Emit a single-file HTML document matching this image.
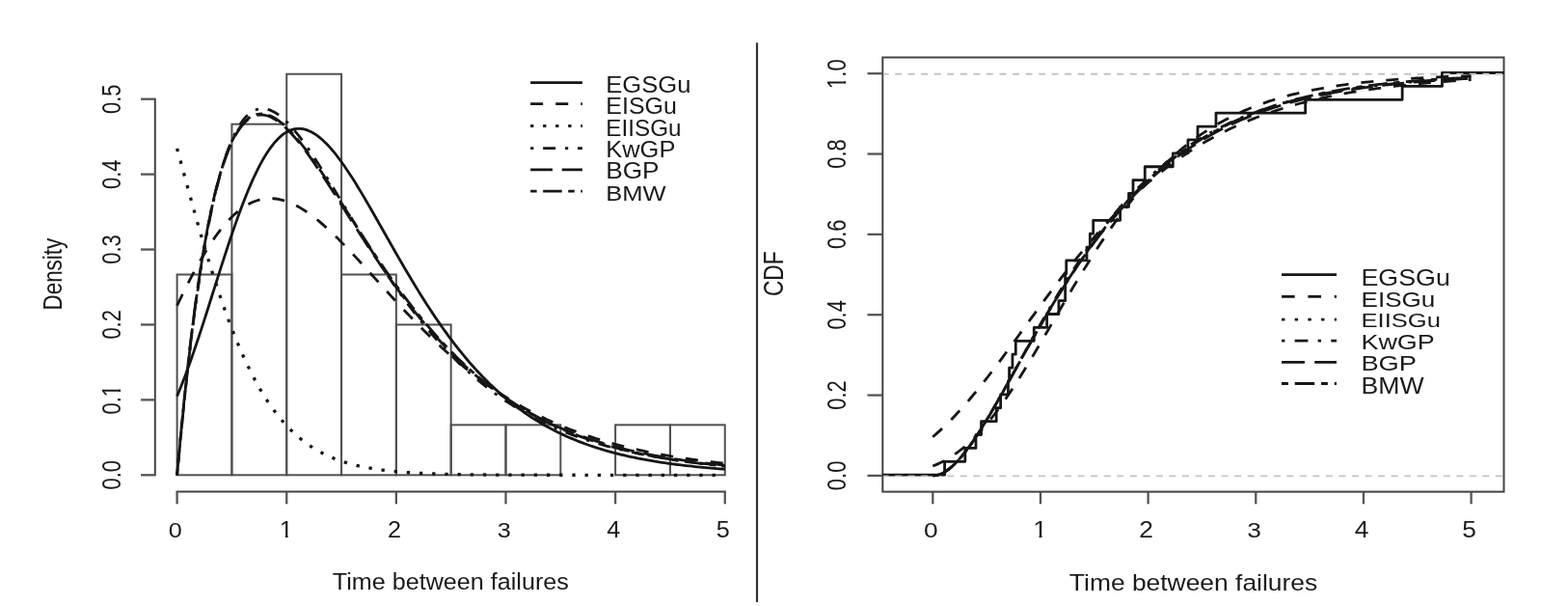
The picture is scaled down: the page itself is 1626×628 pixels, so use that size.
<!DOCTYPE html>
<html><head><meta charset="utf-8"><title>Density and CDF plots</title>
<style>
html,body{margin:0;padding:0;background:#fff;}
svg{display:block;}
text{font-family:"Liberation Sans",Arial,sans-serif;font-size:22.5px;fill:#1a1a1a;}
</style></head><body>
<svg width="1626" height="628" viewBox="0 0 1626 628">
<defs><clipPath id="rclip"><rect x="915.3" y="59.5" width="644.2" height="450.1"/></clipPath></defs>
<rect width="1626" height="628" fill="#fff"/>
<line x1="160.80" y1="492.30" x2="160.80" y2="102.70" stroke="#424242" stroke-width="2" stroke-linecap="square"/>
<line x1="146.00" y1="492.30" x2="160.80" y2="492.30" stroke="#555" stroke-width="2.3" />
<line x1="146.00" y1="414.38" x2="160.80" y2="414.38" stroke="#555" stroke-width="2.3" />
<line x1="146.00" y1="336.46" x2="160.80" y2="336.46" stroke="#555" stroke-width="2.3" />
<line x1="146.00" y1="258.54" x2="160.80" y2="258.54" stroke="#555" stroke-width="2.3" />
<line x1="146.00" y1="180.62" x2="160.80" y2="180.62" stroke="#555" stroke-width="2.3" />
<line x1="146.00" y1="102.70" x2="160.80" y2="102.70" stroke="#555" stroke-width="2.3" />
<line x1="183.60" y1="509.60" x2="751.75" y2="509.60" stroke="#424242" stroke-width="2" stroke-linecap="square"/>
<line x1="183.60" y1="509.60" x2="183.60" y2="522.30" stroke="#555" stroke-width="2.3" />
<line x1="297.23" y1="509.60" x2="297.23" y2="522.30" stroke="#555" stroke-width="2.3" />
<line x1="410.86" y1="509.60" x2="410.86" y2="522.30" stroke="#555" stroke-width="2.3" />
<line x1="524.49" y1="509.60" x2="524.49" y2="522.30" stroke="#555" stroke-width="2.3" />
<line x1="638.12" y1="509.60" x2="638.12" y2="522.30" stroke="#555" stroke-width="2.3" />
<line x1="751.75" y1="509.60" x2="751.75" y2="522.30" stroke="#555" stroke-width="2.3" />
<rect x="183.60" y="284.51" width="56.81" height="207.79" fill="none" stroke="#505050" stroke-width="2"/>
<rect x="240.41" y="128.67" width="56.82" height="363.63" fill="none" stroke="#505050" stroke-width="2"/>
<rect x="297.23" y="76.73" width="56.81" height="415.57" fill="none" stroke="#505050" stroke-width="2"/>
<rect x="354.04" y="284.51" width="56.82" height="207.79" fill="none" stroke="#505050" stroke-width="2"/>
<rect x="410.86" y="336.46" width="56.81" height="155.84" fill="none" stroke="#505050" stroke-width="2"/>
<rect x="467.67" y="440.35" width="56.82" height="51.95" fill="none" stroke="#505050" stroke-width="2"/>
<rect x="524.49" y="440.35" width="56.81" height="51.95" fill="none" stroke="#505050" stroke-width="2"/>
<rect x="638.12" y="440.35" width="56.81" height="51.95" fill="none" stroke="#505050" stroke-width="2"/>
<rect x="694.93" y="440.35" width="56.82" height="51.95" fill="none" stroke="#505050" stroke-width="2"/>
<g transform="translate(174.64,556.97) scale(1.1200,1.0203)"><text>0</text></g>
<g transform="translate(289.79,557.20) scale(1.1200,1.0499)"><text>1</text><rect x="0.45" y="-2.36" width="4.90" height="3.15" fill="#fff"/><rect x="7.92" y="-2.36" width="4.68" height="3.15" fill="#fff"/></g>
<g transform="translate(401.90,557.20) scale(1.1200,1.0349)"><text>2</text></g>
<g transform="translate(515.66,556.97) scale(1.1200,1.0203)"><text>3</text></g>
<g transform="translate(629.29,557.20) scale(1.1200,1.0499)"><text>4</text></g>
<g transform="translate(742.79,556.97) scale(1.1200,1.0349)"><text>5</text></g>
<g transform="translate(125.20,507.55) scale(1.2635,0.9750) rotate(-90)"><text>0.0</text></g>
<g transform="translate(125.20,429.52) scale(1.2635,0.9750) rotate(-90)"><text>0.1</text><rect x="19.21" y="-2.36" width="4.90" height="3.15" fill="#fff"/><rect x="26.68" y="-2.36" width="4.68" height="3.15" fill="#fff"/></g>
<g transform="translate(125.20,351.60) scale(1.2635,0.9750) rotate(-90)"><text>0.2</text></g>
<g transform="translate(125.20,273.68) scale(1.2635,0.9750) rotate(-90)"><text>0.3</text></g>
<g transform="translate(125.20,195.98) scale(1.2635,0.9750) rotate(-90)"><text>0.4</text></g>
<g transform="translate(125.20,117.95) scale(1.2635,0.9750) rotate(-90)"><text>0.5</text></g>
<g transform="translate(64.10,321.49) scale(1.2222,0.9956) rotate(-90)"><text>Density</text></g>
<g transform="translate(344.80,611.36) scale(1.1185,1.0472)"><text>Time between failures</text></g>
<g transform="translate(628.25,96.25) scale(1.1380,1.0892)"><text>EGSGu</text></g>
<g transform="translate(628.30,118.46) scale(1.1111,1.0579)"><text>EISGu</text></g>
<g transform="translate(628.36,140.56) scale(1.0779,1.0579)"><text>EIISGu</text></g>
<g transform="translate(628.26,162.86) scale(1.1316,1.0579)"><text>KwGP</text></g>
<g transform="translate(628.20,185.26) scale(1.1672,1.0579)"><text>BGP</text></g>
<g transform="translate(628.26,208.30) scale(1.1356,1.0048)"><text>BMW</text></g>
<line x1="785.00" y1="44.30" x2="785.00" y2="623.90" stroke="#333" stroke-width="2.2" />
<rect x="915.3" y="59.5" width="644.20" height="450.10" fill="none" stroke="#424242" stroke-width="2"/>
<line x1="899.50" y1="492.90" x2="915.30" y2="492.90" stroke="#555" stroke-width="2.3" />
<line x1="899.50" y1="409.56" x2="915.30" y2="409.56" stroke="#555" stroke-width="2.3" />
<line x1="899.50" y1="326.22" x2="915.30" y2="326.22" stroke="#555" stroke-width="2.3" />
<line x1="899.50" y1="242.88" x2="915.30" y2="242.88" stroke="#555" stroke-width="2.3" />
<line x1="899.50" y1="159.54" x2="915.30" y2="159.54" stroke="#555" stroke-width="2.3" />
<line x1="899.50" y1="76.20" x2="915.30" y2="76.20" stroke="#555" stroke-width="2.3" />
<line x1="967.30" y1="509.60" x2="967.30" y2="522.30" stroke="#555" stroke-width="2.3" />
<line x1="1078.96" y1="509.60" x2="1078.96" y2="522.30" stroke="#555" stroke-width="2.3" />
<line x1="1190.62" y1="509.60" x2="1190.62" y2="522.30" stroke="#555" stroke-width="2.3" />
<line x1="1302.28" y1="509.60" x2="1302.28" y2="522.30" stroke="#555" stroke-width="2.3" />
<line x1="1413.94" y1="509.60" x2="1413.94" y2="522.30" stroke="#555" stroke-width="2.3" />
<line x1="1525.60" y1="509.60" x2="1525.60" y2="522.30" stroke="#555" stroke-width="2.3" />
<g transform="translate(958.03,556.97) scale(1.1700,1.0203)"><text>0</text></g>
<g transform="translate(1071.27,557.20) scale(1.1700,1.0499)"><text>1</text><rect x="0.45" y="-2.36" width="4.90" height="3.15" fill="#fff"/><rect x="7.92" y="-2.36" width="4.68" height="3.15" fill="#fff"/></g>
<g transform="translate(1181.35,557.20) scale(1.1700,1.0349)"><text>2</text></g>
<g transform="translate(1293.14,556.97) scale(1.1700,1.0203)"><text>3</text></g>
<g transform="translate(1404.80,557.20) scale(1.1700,1.0499)"><text>4</text></g>
<g transform="translate(1516.33,556.97) scale(1.1700,1.0349)"><text>5</text></g>
<g transform="translate(876.80,508.15) scale(1.2508,0.9750) rotate(-90)"><text>0.0</text></g>
<g transform="translate(876.80,424.70) scale(1.2508,0.9750) rotate(-90)"><text>0.2</text></g>
<g transform="translate(876.80,341.58) scale(1.2508,0.9750) rotate(-90)"><text>0.4</text></g>
<g transform="translate(876.80,258.02) scale(1.2508,0.9750) rotate(-90)"><text>0.6</text></g>
<g transform="translate(876.80,174.68) scale(1.2508,0.9750) rotate(-90)"><text>0.8</text></g>
<g transform="translate(876.80,91.89) scale(1.2508,0.9750) rotate(-90)"><text>1.0</text><rect x="0.45" y="-2.36" width="4.90" height="3.15" fill="#fff"/><rect x="7.92" y="-2.36" width="4.68" height="3.15" fill="#fff"/></g>
<g transform="translate(812.30,307.04) scale(1.2762,1.0091) rotate(-90)"><text>CDF</text></g>
<g transform="translate(1108.87,611.86) scale(1.1740,1.0776)"><text>Time between failures</text></g>
<g transform="translate(1411.45,296.17) scale(1.1919,1.0329)"><text>EGSGu</text></g>
<g transform="translate(1411.51,317.78) scale(1.1587,0.9828)"><text>EISGu</text></g>
<g transform="translate(1411.56,339.39) scale(1.1356,0.9202)"><text>EIISGu</text></g>
<g transform="translate(1411.45,362.18) scale(1.1972,0.9765)"><text>KwGP</text></g>
<g transform="translate(1411.41,384.47) scale(1.2144,1.0078)"><text>BGP</text></g>
<g transform="translate(1411.47,408.30) scale(1.1846,1.0306)"><text>BMW</text></g>
<path d="M183.60,410.63 L186.44,403.75 L189.28,396.58 L192.12,389.14 L194.96,381.45 L197.80,373.52 L200.64,365.37 L203.49,357.03 L206.33,348.51 L209.17,339.85 L212.01,331.07 L214.85,322.20 L217.69,313.27 L220.53,304.29 L223.37,295.31 L226.21,286.35 L229.05,277.44 L231.89,268.61 L234.73,259.89 L237.57,251.30 L240.41,242.87 L243.26,234.63 L246.10,226.60 L248.94,218.80 L251.78,211.26 L254.62,203.99 L257.46,197.02 L260.30,190.36 L263.14,184.03 L265.98,178.04 L268.82,172.40 L271.66,167.12 L274.50,162.22 L277.34,157.69 L280.19,153.55 L283.03,149.80 L285.87,146.44 L288.71,143.47 L291.55,140.88 L294.39,138.69 L297.23,136.88 L300.07,135.44 L302.91,134.38 L305.75,133.69 L308.59,133.35 L311.43,133.36 L314.27,133.72 L317.12,134.40 L319.96,135.40 L322.80,136.71 L325.64,138.31 L328.48,140.19 L331.32,142.35 L334.16,144.76 L337.00,147.42 L339.84,150.31 L342.68,153.42 L345.52,156.74 L348.36,160.24 L351.20,163.93 L354.04,167.78 L356.89,171.79 L359.73,175.94 L362.57,180.21 L365.41,184.61 L368.25,189.11 L371.09,193.71 L373.93,198.39 L376.77,203.15 L379.61,207.97 L382.45,212.84 L385.29,217.76 L388.13,222.72 L390.97,227.70 L393.82,232.70 L396.66,237.71 L399.50,242.73 L402.34,247.74 L405.18,252.75 L408.02,257.74 L410.86,262.71 L413.70,267.65 L416.54,272.56 L419.38,277.43 L422.22,282.27 L425.06,287.06 L427.90,291.80 L430.75,296.49 L433.59,301.12 L436.43,305.70 L439.27,310.21 L442.11,314.66 L444.95,319.05 L447.79,323.37 L450.63,327.62 L453.47,331.81 L456.31,335.92 L459.15,339.96 L461.99,343.93 L464.83,347.82 L467.67,351.64 L470.52,355.39 L473.36,359.06 L476.20,362.66 L479.04,366.18 L481.88,369.63 L484.72,373.00 L487.56,376.30 L490.40,379.53 L493.24,382.68 L496.08,385.76 L498.92,388.77 L501.76,391.71 L504.60,394.58 L507.45,397.38 L510.29,400.11 L513.13,402.77 L515.97,405.37 L518.81,407.90 L521.65,410.37 L524.49,412.78 L527.33,415.12 L530.17,417.40 L533.01,419.62 L535.85,421.78 L538.69,423.89 L541.53,425.93 L544.38,427.93 L547.22,429.87 L550.06,431.75 L552.90,433.58 L555.74,435.36 L558.58,437.10 L561.42,438.78 L564.26,440.42 L567.10,442.01 L569.94,443.55 L572.78,445.05 L575.62,446.51 L578.46,447.92 L581.30,449.29 L584.15,450.63 L586.99,451.92 L589.83,453.18 L592.67,454.40 L595.51,455.58 L598.35,456.73 L601.19,457.84 L604.03,458.93 L606.87,459.97 L609.71,460.99 L612.55,461.98 L615.39,462.93 L618.23,463.86 L621.08,464.76 L623.92,465.63 L626.76,466.48 L629.60,467.30 L632.44,468.09 L635.28,468.86 L638.12,469.61 L640.96,470.33 L643.80,471.03 L646.64,471.71 L649.48,472.37 L652.32,473.01 L655.16,473.62 L658.01,474.22 L660.85,474.80 L663.69,475.36 L666.53,475.91 L669.37,476.43 L672.21,476.94 L675.05,477.44 L677.89,477.92 L680.73,478.38 L683.57,478.83 L686.41,479.26 L689.25,479.69 L692.09,480.09 L694.93,480.49 L697.78,480.87 L700.62,481.24 L703.46,481.60 L706.30,481.94 L709.14,482.28 L711.98,482.60 L714.82,482.92 L717.66,483.22 L720.50,483.52 L723.34,483.80 L726.18,484.08 L729.02,484.35 L731.86,484.61 L734.71,484.86 L737.55,485.10 L740.39,485.33 L743.23,485.56 L746.07,485.78 L748.91,485.99 L751.75,486.20" fill="none" stroke="#161616" stroke-width="2.8" stroke-linecap="butt" stroke-linejoin="round"  />
<path d="M183.60,316.63 L186.44,310.78 L189.28,305.00 L192.12,299.30 L194.96,293.70 L197.80,288.21 L200.64,282.84 L203.49,277.60 L206.33,272.50 L209.17,267.54 L212.01,262.74 L214.85,258.11 L217.69,253.65 L220.53,249.36 L223.37,245.26 L226.21,241.35 L229.05,237.63 L231.89,234.11 L234.73,230.80 L237.57,227.68 L240.41,224.78 L243.26,222.08 L246.10,219.59 L248.94,217.31 L251.78,215.24 L254.62,213.37 L257.46,211.72 L260.30,210.27 L263.14,209.02 L265.98,207.97 L268.82,207.13 L271.66,206.47 L274.50,206.01 L277.34,205.74 L280.19,205.65 L283.03,205.74 L285.87,206.00 L288.71,206.43 L291.55,207.03 L294.39,207.79 L297.23,208.70 L300.07,209.76 L302.91,210.97 L305.75,212.31 L308.59,213.79 L311.43,215.39 L314.27,217.11 L317.12,218.95 L319.96,220.90 L322.80,222.96 L325.64,225.11 L328.48,227.36 L331.32,229.70 L334.16,232.12 L337.00,234.62 L339.84,237.19 L342.68,239.82 L345.52,242.52 L348.36,245.28 L351.20,248.10 L354.04,250.96 L356.89,253.86 L359.73,256.81 L362.57,259.79 L365.41,262.80 L368.25,265.84 L371.09,268.91 L373.93,271.99 L376.77,275.09 L379.61,278.21 L382.45,281.33 L385.29,284.47 L388.13,287.60 L390.97,290.74 L393.82,293.88 L396.66,297.01 L399.50,300.14 L402.34,303.26 L405.18,306.37 L408.02,309.46 L410.86,312.54 L413.70,315.60 L416.54,318.64 L419.38,321.67 L422.22,324.67 L425.06,327.65 L427.90,330.60 L430.75,333.53 L433.59,336.43 L436.43,339.30 L439.27,342.14 L442.11,344.96 L444.95,347.74 L447.79,350.49 L450.63,353.21 L453.47,355.89 L456.31,358.54 L459.15,361.16 L461.99,363.74 L464.83,366.29 L467.67,368.80 L470.52,371.28 L473.36,373.72 L476.20,376.13 L479.04,378.49 L481.88,380.83 L484.72,383.12 L487.56,385.38 L490.40,387.61 L493.24,389.79 L496.08,391.95 L498.92,394.06 L501.76,396.14 L504.60,398.19 L507.45,400.19 L510.29,402.17 L513.13,404.11 L515.97,406.01 L518.81,407.88 L521.65,409.71 L524.49,411.52 L527.33,413.28 L530.17,415.02 L533.01,416.72 L535.85,418.39 L538.69,420.03 L541.53,421.63 L544.38,423.20 L547.22,424.75 L550.06,426.26 L552.90,427.74 L555.74,429.20 L558.58,430.62 L561.42,432.01 L564.26,433.38 L567.10,434.72 L569.94,436.03 L572.78,437.31 L575.62,438.57 L578.46,439.80 L581.30,441.00 L584.15,442.18 L586.99,443.34 L589.83,444.47 L592.67,445.57 L595.51,446.65 L598.35,447.71 L601.19,448.75 L604.03,449.76 L606.87,450.75 L609.71,451.72 L612.55,452.67 L615.39,453.60 L618.23,454.50 L621.08,455.39 L623.92,456.26 L626.76,457.10 L629.60,457.93 L632.44,458.74 L635.28,459.54 L638.12,460.31 L640.96,461.07 L643.80,461.81 L646.64,462.53 L649.48,463.24 L652.32,463.93 L655.16,464.60 L658.01,465.26 L660.85,465.90 L663.69,466.53 L666.53,467.15 L669.37,467.75 L672.21,468.34 L675.05,468.91 L677.89,469.47 L680.73,470.02 L683.57,470.55 L686.41,471.07 L689.25,471.58 L692.09,472.08 L694.93,472.57 L697.78,473.04 L700.62,473.51 L703.46,473.96 L706.30,474.40 L709.14,474.83 L711.98,475.25 L714.82,475.67 L717.66,476.07 L720.50,476.46 L723.34,476.84 L726.18,477.22 L729.02,477.58 L731.86,477.94 L734.71,478.29 L737.55,478.63 L740.39,478.96 L743.23,479.28 L746.07,479.60 L748.91,479.91 L751.75,480.21" fill="none" stroke="#161616" stroke-width="2.8" stroke-linecap="butt" stroke-linejoin="round" stroke-dasharray="13.00,13.00" />
<path d="M183.60,153.81 L186.44,164.24 L189.28,174.68 L192.12,185.11 L194.96,195.49 L197.80,205.80 L200.64,216.03 L203.49,226.14 L206.33,236.12 L209.17,245.95 L212.01,255.61 L214.85,265.09 L217.69,274.38 L220.53,283.46 L223.37,292.33 L226.21,300.97 L229.05,309.38 L231.89,317.56 L234.73,325.49 L237.57,333.18 L240.41,340.63 L243.26,347.83 L246.10,354.78 L248.94,361.48 L251.78,367.94 L254.62,374.16 L257.46,380.13 L260.30,385.87 L263.14,391.37 L265.98,396.65 L268.82,401.70 L271.66,406.53 L274.50,411.15 L277.34,415.57 L280.19,419.78 L283.03,423.79 L285.87,427.61 L288.71,431.25 L291.55,434.71 L294.39,438.01 L297.23,441.13 L300.07,444.10 L302.91,446.92 L305.75,449.58 L308.59,452.11 L311.43,454.51 L314.27,456.77 L317.12,458.92 L319.96,460.94 L322.80,462.85 L325.64,464.66 L328.48,466.37 L331.32,467.97 L334.16,469.49 L337.00,470.92 L339.84,472.26 L342.68,473.53 L345.52,474.72 L348.36,475.84 L351.20,476.90 L354.04,477.89 L356.89,478.82 L359.73,479.69 L362.57,480.51 L365.41,481.28 L368.25,482.00 L371.09,482.68 L373.93,483.31 L376.77,483.91 L379.61,484.47 L382.45,484.99 L385.29,485.48 L388.13,485.93 L390.97,486.36 L393.82,486.76 L396.66,487.14 L399.50,487.49 L402.34,487.81 L405.18,488.12 L408.02,488.40 L410.86,488.67 L413.70,488.92 L416.54,489.15 L419.38,489.37 L422.22,489.57 L425.06,489.76 L427.90,489.94 L430.75,490.10 L433.59,490.25 L436.43,490.40 L439.27,490.53 L442.11,490.65 L444.95,490.77 L447.79,490.88 L450.63,490.98 L453.47,491.07 L456.31,491.16 L459.15,491.24 L461.99,491.31 L464.83,491.38 L467.67,491.45 L470.52,491.51 L473.36,491.56 L476.20,491.62 L479.04,491.67 L481.88,491.71 L484.72,491.75 L487.56,491.79 L490.40,491.83 L493.24,491.86 L496.08,491.89 L498.92,491.92 L501.76,491.95 L504.60,491.98 L507.45,492.00 L510.29,492.02 L513.13,492.04 L515.97,492.06 L518.81,492.08 L521.65,492.09 L524.49,492.11 L527.33,492.12 L530.17,492.13 L533.01,492.15 L535.85,492.16 L538.69,492.17 L541.53,492.18 L544.38,492.19 L547.22,492.20 L550.06,492.20 L552.90,492.21 L555.74,492.22 L558.58,492.22 L561.42,492.23 L564.26,492.23 L567.10,492.24 L569.94,492.24 L572.78,492.25 L575.62,492.25 L578.46,492.25 L581.30,492.26 L584.15,492.26 L586.99,492.26 L589.83,492.27 L592.67,492.27 L595.51,492.27 L598.35,492.27 L601.19,492.28 L604.03,492.28 L606.87,492.28 L609.71,492.28 L612.55,492.28 L615.39,492.28 L618.23,492.28 L621.08,492.29 L623.92,492.29 L626.76,492.29 L629.60,492.29 L632.44,492.29 L635.28,492.29 L638.12,492.29 L640.96,492.29 L643.80,492.29 L646.64,492.29 L649.48,492.29 L652.32,492.29 L655.16,492.29 L658.01,492.29 L660.85,492.30 L663.69,492.30 L666.53,492.30 L669.37,492.30 L672.21,492.30 L675.05,492.30 L677.89,492.30 L680.73,492.30 L683.57,492.30 L686.41,492.30 L689.25,492.30 L692.09,492.30 L694.93,492.30 L697.78,492.30 L700.62,492.30 L703.46,492.30 L706.30,492.30 L709.14,492.30 L711.98,492.30 L714.82,492.30 L717.66,492.30 L720.50,492.30 L723.34,492.30 L726.18,492.30 L729.02,492.30 L731.86,492.30 L734.71,492.30 L737.55,492.30 L740.39,492.30 L743.23,492.30 L746.07,492.30 L748.91,492.30 L751.75,492.30" fill="none" stroke="#161616" stroke-width="3.3" stroke-linecap="butt" stroke-linejoin="round" stroke-dasharray="3.30,9.90" />
<path d="M183.60,492.30 L186.44,460.92 L189.28,431.91 L192.12,404.72 L194.96,379.18 L197.80,355.20 L200.64,332.73 L203.49,311.68 L206.33,292.01 L209.17,273.66 L212.01,256.59 L214.85,240.73 L217.69,226.04 L220.53,212.48 L223.37,200.00 L226.21,188.55 L229.05,178.08 L231.89,168.56 L234.73,159.94 L237.57,152.18 L240.41,145.24 L243.26,139.08 L246.10,133.66 L248.94,128.94 L251.78,124.90 L254.62,121.48 L257.46,118.67 L260.30,116.43 L263.14,114.72 L265.98,113.52 L268.82,112.80 L271.66,112.53 L274.50,112.68 L277.34,113.22 L280.19,114.14 L283.03,115.41 L285.87,117.00 L288.71,118.90 L291.55,121.08 L294.39,123.52 L297.23,126.21 L300.07,129.12 L302.91,132.24 L305.75,135.55 L308.59,139.04 L311.43,142.69 L314.27,146.48 L317.12,150.41 L319.96,154.46 L322.80,158.62 L325.64,162.88 L328.48,167.22 L331.32,171.64 L334.16,176.12 L337.00,180.66 L339.84,185.25 L342.68,189.87 L345.52,194.53 L348.36,199.22 L351.20,203.92 L354.04,208.63 L356.89,213.35 L359.73,218.07 L362.57,222.78 L365.41,227.48 L368.25,232.16 L371.09,236.83 L373.93,241.47 L376.77,246.09 L379.61,250.68 L382.45,255.23 L385.29,259.74 L388.13,264.22 L390.97,268.65 L393.82,273.04 L396.66,277.39 L399.50,281.68 L402.34,285.93 L405.18,290.12 L408.02,294.27 L410.86,298.35 L413.70,302.39 L416.54,306.36 L419.38,310.29 L422.22,314.15 L425.06,317.96 L427.90,321.70 L430.75,325.39 L433.59,329.02 L436.43,332.59 L439.27,336.11 L442.11,339.56 L444.95,342.95 L447.79,346.28 L450.63,349.56 L453.47,352.77 L456.31,355.93 L459.15,359.03 L461.99,362.07 L464.83,365.06 L467.67,367.98 L470.52,370.85 L473.36,373.67 L476.20,376.43 L479.04,379.13 L481.88,381.78 L484.72,384.38 L487.56,386.92 L490.40,389.41 L493.24,391.85 L496.08,394.24 L498.92,396.58 L501.76,398.87 L504.60,401.11 L507.45,403.30 L510.29,405.44 L513.13,407.54 L515.97,409.59 L518.81,411.60 L521.65,413.56 L524.49,415.48 L527.33,417.36 L530.17,419.19 L533.01,420.99 L535.85,422.74 L538.69,424.45 L541.53,426.13 L544.38,427.76 L547.22,429.36 L550.06,430.92 L552.90,432.44 L555.74,433.93 L558.58,435.39 L561.42,436.81 L564.26,438.19 L567.10,439.55 L569.94,440.87 L572.78,442.16 L575.62,443.42 L578.46,444.65 L581.30,445.85 L584.15,447.02 L586.99,448.17 L589.83,449.28 L592.67,450.37 L595.51,451.43 L598.35,452.47 L601.19,453.48 L604.03,454.47 L606.87,455.43 L609.71,456.37 L612.55,457.29 L615.39,458.18 L618.23,459.05 L621.08,459.90 L623.92,460.73 L626.76,461.54 L629.60,462.32 L632.44,463.09 L635.28,463.84 L638.12,464.57 L640.96,465.28 L643.80,465.98 L646.64,466.66 L649.48,467.32 L652.32,467.96 L655.16,468.59 L658.01,469.20 L660.85,469.79 L663.69,470.37 L666.53,470.94 L669.37,471.49 L672.21,472.03 L675.05,472.55 L677.89,473.06 L680.73,473.56 L683.57,474.05 L686.41,474.52 L689.25,474.98 L692.09,475.43 L694.93,475.87 L697.78,476.29 L700.62,476.71 L703.46,477.11 L706.30,477.51 L709.14,477.89 L711.98,478.27 L714.82,478.63 L717.66,478.99 L720.50,479.33 L723.34,479.67 L726.18,480.00 L729.02,480.32 L731.86,480.63 L734.71,480.93 L737.55,481.23 L740.39,481.52 L743.23,481.80 L746.07,482.07 L748.91,482.34 L751.75,482.60" fill="none" stroke="#161616" stroke-width="2.8" stroke-linecap="butt" stroke-linejoin="round" stroke-dasharray="3.25,9.75,13.00,9.75" />
<path d="M183.60,492.30 L186.44,461.26 L189.28,431.64 L192.12,403.76 L194.96,377.63 L197.80,353.20 L200.64,330.42 L203.49,309.22 L206.33,289.52 L209.17,271.26 L212.01,254.38 L214.85,238.80 L217.69,224.46 L220.53,211.31 L223.37,199.28 L226.21,188.31 L229.05,178.35 L231.89,169.35 L234.73,161.25 L237.57,154.01 L240.41,147.59 L243.26,141.92 L246.10,136.99 L248.94,132.73 L251.78,129.12 L254.62,126.11 L257.46,123.68 L260.30,121.79 L263.14,120.40 L265.98,119.48 L268.82,119.01 L271.66,118.96 L274.50,119.30 L277.34,120.01 L280.19,121.06 L283.03,122.43 L285.87,124.09 L288.71,126.03 L291.55,128.23 L294.39,130.66 L297.23,133.32 L300.07,136.18 L302.91,139.23 L305.75,142.45 L308.59,145.83 L311.43,149.35 L314.27,153.00 L317.12,156.78 L319.96,160.66 L322.80,164.64 L325.64,168.70 L328.48,172.84 L331.32,177.05 L334.16,181.32 L337.00,185.64 L339.84,190.00 L342.68,194.39 L345.52,198.82 L348.36,203.27 L351.20,207.73 L354.04,212.20 L356.89,216.68 L359.73,221.16 L362.57,225.64 L365.41,230.10 L368.25,234.56 L371.09,238.99 L373.93,243.41 L376.77,247.80 L379.61,252.16 L382.45,256.50 L385.29,260.80 L388.13,265.07 L390.97,269.30 L393.82,273.50 L396.66,277.65 L399.50,281.76 L402.34,285.83 L405.18,289.85 L408.02,293.82 L410.86,297.74 L413.70,301.62 L416.54,305.45 L419.38,309.22 L422.22,312.95 L425.06,316.62 L427.90,320.24 L430.75,323.81 L433.59,327.33 L436.43,330.79 L439.27,334.19 L442.11,337.55 L444.95,340.85 L447.79,344.09 L450.63,347.29 L453.47,350.43 L456.31,353.51 L459.15,356.54 L461.99,359.52 L464.83,362.45 L467.67,365.32 L470.52,368.15 L473.36,370.92 L476.20,373.64 L479.04,376.30 L481.88,378.92 L484.72,381.49 L487.56,384.01 L490.40,386.48 L493.24,388.90 L496.08,391.28 L498.92,393.61 L501.76,395.89 L504.60,398.12 L507.45,400.31 L510.29,402.46 L513.13,404.56 L515.97,406.62 L518.81,408.64 L521.65,410.61 L524.49,412.54 L527.33,414.43 L530.17,416.28 L533.01,418.10 L535.85,419.87 L538.69,421.60 L541.53,423.30 L544.38,424.96 L547.22,426.58 L550.06,428.17 L552.90,429.72 L555.74,431.24 L558.58,432.73 L561.42,434.18 L564.26,435.60 L567.10,436.98 L569.94,438.34 L572.78,439.67 L575.62,440.96 L578.46,442.23 L581.30,443.46 L584.15,444.67 L586.99,445.85 L589.83,447.00 L592.67,448.13 L595.51,449.23 L598.35,450.30 L601.19,451.35 L604.03,452.38 L606.87,453.38 L609.71,454.35 L612.55,455.31 L615.39,456.24 L618.23,457.15 L621.08,458.03 L623.92,458.90 L626.76,459.74 L629.60,460.57 L632.44,461.37 L635.28,462.16 L638.12,462.93 L640.96,463.67 L643.80,464.40 L646.64,465.12 L649.48,465.81 L652.32,466.49 L655.16,467.15 L658.01,467.80 L660.85,468.42 L663.69,469.04 L666.53,469.64 L669.37,470.22 L672.21,470.79 L675.05,471.34 L677.89,471.89 L680.73,472.41 L683.57,472.93 L686.41,473.43 L689.25,473.92 L692.09,474.40 L694.93,474.86 L697.78,475.32 L700.62,475.76 L703.46,476.19 L706.30,476.61 L709.14,477.02 L711.98,477.42 L714.82,477.81 L717.66,478.19 L720.50,478.56 L723.34,478.92 L726.18,479.27 L729.02,479.61 L731.86,479.94 L734.71,480.27 L737.55,480.58 L740.39,480.89 L743.23,481.19 L746.07,481.49 L748.91,481.77 L751.75,482.05" fill="none" stroke="#161616" stroke-width="2.8" stroke-linecap="butt" stroke-linejoin="round" stroke-dasharray="22.75,9.75" />
<path d="M183.60,492.30 L186.44,463.12 L189.28,433.69 L192.12,405.64 L194.96,379.21 L197.80,354.45 L200.64,331.33 L203.49,309.82 L206.33,289.85 L209.17,271.36 L212.01,254.27 L214.85,238.52 L217.69,224.05 L220.53,210.78 L223.37,198.66 L226.21,187.62 L229.05,177.61 L231.89,168.57 L234.73,160.44 L237.57,153.18 L240.41,146.73 L243.26,141.06 L246.10,136.11 L248.94,131.84 L251.78,128.22 L254.62,125.21 L257.46,122.77 L260.30,120.86 L263.14,119.46 L265.98,118.53 L268.82,118.05 L271.66,117.97 L274.50,118.29 L277.34,118.97 L280.19,119.99 L283.03,121.33 L285.87,122.96 L288.71,124.87 L291.55,127.03 L294.39,129.43 L297.23,132.05 L300.07,134.87 L302.91,137.88 L305.75,141.06 L308.59,144.39 L311.43,147.87 L314.27,151.49 L317.12,155.22 L319.96,159.06 L322.80,163.00 L325.64,167.02 L328.48,171.13 L331.32,175.30 L334.16,179.53 L337.00,183.82 L339.84,188.15 L342.68,192.51 L345.52,196.91 L348.36,201.33 L351.20,205.77 L354.04,210.23 L356.89,214.69 L359.73,219.15 L362.57,223.61 L365.41,228.06 L368.25,232.51 L371.09,236.94 L373.93,241.35 L376.77,245.74 L379.61,250.10 L382.45,254.44 L385.29,258.75 L388.13,263.03 L390.97,267.27 L393.82,271.47 L396.66,275.64 L399.50,279.77 L402.34,283.85 L405.18,287.89 L408.02,291.89 L410.86,295.84 L413.70,299.74 L416.54,303.60 L419.38,307.40 L422.22,311.16 L425.06,314.87 L427.90,318.52 L430.75,322.13 L433.59,325.68 L436.43,329.18 L439.27,332.62 L442.11,336.02 L444.95,339.36 L447.79,342.65 L450.63,345.89 L453.47,349.07 L456.31,352.20 L459.15,355.28 L461.99,358.30 L464.83,361.28 L467.67,364.20 L470.52,367.07 L473.36,369.89 L476.20,372.65 L479.04,375.37 L481.88,378.04 L484.72,380.65 L487.56,383.22 L490.40,385.74 L493.24,388.21 L496.08,390.63 L498.92,393.01 L501.76,395.34 L504.60,397.62 L507.45,399.86 L510.29,402.05 L513.13,404.20 L515.97,406.30 L518.81,408.36 L521.65,410.38 L524.49,412.36 L527.33,414.29 L530.17,416.19 L533.01,418.04 L535.85,419.85 L538.69,421.63 L541.53,423.37 L544.38,425.07 L547.22,426.73 L550.06,428.35 L552.90,429.94 L555.74,431.50 L558.58,433.02 L561.42,434.51 L564.26,435.96 L567.10,437.38 L569.94,438.77 L572.78,440.12 L575.62,441.45 L578.46,442.74 L581.30,444.01 L584.15,445.25 L586.99,446.45 L589.83,447.63 L592.67,448.78 L595.51,449.91 L598.35,451.01 L601.19,452.08 L604.03,453.13 L606.87,454.15 L609.71,455.14 L612.55,456.12 L615.39,457.07 L618.23,457.99 L621.08,458.90 L623.92,459.78 L626.76,460.64 L629.60,461.48 L632.44,462.30 L635.28,463.10 L638.12,463.88 L640.96,464.64 L643.80,465.38 L646.64,466.10 L649.48,466.81 L652.32,467.50 L655.16,468.16 L658.01,468.82 L660.85,469.45 L663.69,470.07 L666.53,470.68 L669.37,471.27 L672.21,471.84 L675.05,472.40 L677.89,472.95 L680.73,473.48 L683.57,474.00 L686.41,474.50 L689.25,474.99 L692.09,475.47 L694.93,475.94 L697.78,476.39 L700.62,476.83 L703.46,477.26 L706.30,477.68 L709.14,478.09 L711.98,478.49 L714.82,478.87 L717.66,479.25 L720.50,479.62 L723.34,479.97 L726.18,480.32 L729.02,480.66 L731.86,480.99 L734.71,481.31 L737.55,481.62 L740.39,481.93 L743.23,482.22 L746.07,482.51 L748.91,482.79 L751.75,483.06" fill="none" stroke="#161616" stroke-width="2.8" stroke-linecap="butt" stroke-linejoin="round" stroke-dasharray="6.50,6.50,19.50,6.50" />
<path d="M550.10,85.70 L603.90,85.70" fill="none" stroke="#161616" stroke-width="2.8" stroke-linecap="butt" stroke-linejoin="round"  />
<path d="M550.10,107.60 L603.90,107.60" fill="none" stroke="#161616" stroke-width="2.8" stroke-linecap="butt" stroke-linejoin="round" stroke-dasharray="13.04,13.04" />
<path d="M550.10,130.50 L603.90,130.50" fill="none" stroke="#161616" stroke-width="2.8" stroke-linecap="butt" stroke-linejoin="round" stroke-dasharray="3.26,9.78" />
<path d="M550.10,153.60 L603.90,153.60" fill="none" stroke="#161616" stroke-width="2.8" stroke-linecap="butt" stroke-linejoin="round" stroke-dasharray="3.26,9.78,13.04,9.78" />
<path d="M550.10,175.80 L603.90,175.80" fill="none" stroke="#161616" stroke-width="2.8" stroke-linecap="butt" stroke-linejoin="round" stroke-dasharray="22.82,9.78" />
<path d="M550.10,198.20 L603.90,198.20" fill="none" stroke="#161616" stroke-width="2.8" stroke-linecap="butt" stroke-linejoin="round" stroke-dasharray="6.52,6.52,19.56,6.52" />
<g clip-path="url(#rclip)"><path d="M915.30,492.20 L979.58,492.20 L979.58,478.31 L1000.80,478.31 L1000.80,464.42 L1011.96,464.42 L1011.96,450.53 L1017.55,450.53 L1017.55,436.64 L1033.18,436.64 L1033.18,422.75 L1037.65,422.75 L1037.65,408.86 L1045.46,408.86 L1045.46,394.97 L1046.58,394.97 L1046.58,381.08 L1049.93,381.08 L1049.93,367.19 L1053.28,367.19 L1053.28,353.30 L1072.26,353.30 L1072.26,339.41 L1085.66,339.41 L1085.66,325.52 L1097.94,325.52 L1097.94,311.63 L1104.64,311.63 L1104.64,297.74 L1104.64,297.74 L1104.64,283.85 L1105.76,283.85 L1105.76,269.96 L1126.97,269.96 L1126.97,256.07 L1130.32,256.07 L1130.32,242.18 L1133.67,242.18 L1133.67,228.29 L1161.59,228.29 L1161.59,214.40 L1170.52,214.40 L1170.52,200.51 L1174.99,200.51 L1174.99,186.62 L1187.27,186.62 L1187.27,172.73 L1216.30,172.73 L1216.30,158.84 L1231.93,158.84 L1231.93,144.95 L1241.98,144.95 L1241.98,131.06 L1260.97,131.06 L1260.97,117.17 L1353.64,117.17 L1353.64,103.28 L1454.14,103.28 L1454.14,89.39 L1495.45,89.39 L1495.45,75.50 L1559.50,75.50" fill="none" stroke="#161616" stroke-width="2.8" stroke-linecap="butt" stroke-linejoin="round"  /></g>
<line x1="916.3" y1="493.40" x2="1558.5" y2="493.40" stroke="#c4c4c4" stroke-width="1.9" stroke-dasharray="7,6.54" stroke-dashoffset="1.74"/>
<line x1="916.3" y1="76.70" x2="1558.5" y2="76.70" stroke="#c4c4c4" stroke-width="1.9" stroke-dasharray="7,6.54" stroke-dashoffset="1.74"/>
<path d="M967.30,483.00 L970.09,481.87 L972.88,480.64 L975.67,479.31 L978.47,477.88 L981.26,476.34 L984.05,474.70 L986.84,472.95 L989.63,471.08 L992.42,469.10 L995.21,467.00 L998.01,464.79 L1000.80,462.46 L1003.59,460.00 L1006.38,457.43 L1009.17,454.74 L1011.96,451.92 L1014.76,448.99 L1017.55,445.94 L1020.34,442.78 L1023.13,439.50 L1025.92,436.11 L1028.71,432.61 L1031.50,429.00 L1034.30,425.30 L1037.09,421.49 L1039.88,417.59 L1042.67,413.60 L1045.46,409.52 L1048.25,405.36 L1051.05,401.12 L1053.84,396.80 L1056.63,392.42 L1059.42,387.98 L1062.21,383.48 L1065.00,378.92 L1067.79,374.32 L1070.59,369.68 L1073.38,365.00 L1076.17,360.28 L1078.96,355.54 L1081.75,350.78 L1084.54,346.00 L1087.33,341.21 L1090.13,336.41 L1092.92,331.61 L1095.71,326.82 L1098.50,322.03 L1101.29,317.25 L1104.08,312.49 L1106.88,307.74 L1109.67,303.02 L1112.46,298.33 L1115.25,293.67 L1118.04,289.04 L1120.83,284.45 L1123.62,279.89 L1126.42,275.39 L1129.21,270.92 L1132.00,266.51 L1134.79,262.14 L1137.58,257.83 L1140.37,253.57 L1143.16,249.37 L1145.96,245.23 L1148.75,241.14 L1151.54,237.12 L1154.33,233.16 L1157.12,229.26 L1159.91,225.43 L1162.70,221.66 L1165.50,217.96 L1168.29,214.32 L1171.08,210.75 L1173.87,207.25 L1176.66,203.81 L1179.45,200.44 L1182.25,197.13 L1185.04,193.90 L1187.83,190.73 L1190.62,187.63 L1193.41,184.59 L1196.20,181.62 L1198.99,178.71 L1201.79,175.87 L1204.58,173.10 L1207.37,170.39 L1210.16,167.74 L1212.95,165.15 L1215.74,162.62 L1218.53,160.16 L1221.33,157.76 L1224.12,155.41 L1226.91,153.12 L1229.70,150.89 L1232.49,148.72 L1235.28,146.60 L1238.08,144.54 L1240.87,142.53 L1243.66,140.57 L1246.45,138.66 L1249.24,136.81 L1252.03,135.00 L1254.82,133.25 L1257.62,131.54 L1260.41,129.87 L1263.20,128.26 L1265.99,126.68 L1268.78,125.15 L1271.57,123.67 L1274.37,122.22 L1277.16,120.82 L1279.95,119.45 L1282.74,118.13 L1285.53,116.84 L1288.32,115.59 L1291.11,114.37 L1293.91,113.19 L1296.70,112.05 L1299.49,110.94 L1302.28,109.86 L1305.07,108.81 L1307.86,107.79 L1310.65,106.81 L1313.45,105.85 L1316.24,104.92 L1319.03,104.02 L1321.82,103.15 L1324.61,102.30 L1327.40,101.48 L1330.19,100.68 L1332.99,99.91 L1335.78,99.16 L1338.57,98.43 L1341.36,97.73 L1344.15,97.04 L1346.94,96.38 L1349.74,95.74 L1352.53,95.12 L1355.32,94.52 L1358.11,93.93 L1360.90,93.37 L1363.69,92.82 L1366.48,92.29 L1369.28,91.77 L1372.07,91.27 L1374.86,90.79 L1377.65,90.32 L1380.44,89.87 L1383.23,89.43 L1386.02,89.00 L1388.82,88.59 L1391.61,88.19 L1394.40,87.81 L1397.19,87.43 L1399.98,87.07 L1402.77,86.72 L1405.57,86.38 L1408.36,86.05 L1411.15,85.73 L1413.94,85.42 L1416.73,85.12 L1419.52,84.84 L1422.31,84.56 L1425.11,84.28 L1427.90,84.02 L1430.69,83.77 L1433.48,83.52 L1436.27,83.28 L1439.06,83.05 L1441.86,82.83 L1444.65,82.62 L1447.44,82.41 L1450.23,82.21 L1453.02,82.01 L1455.81,81.82 L1458.60,81.64 L1461.40,81.46 L1464.19,81.29 L1466.98,81.12 L1469.77,80.96 L1472.56,80.81 L1475.35,80.66 L1478.14,80.51 L1480.94,80.37 L1483.73,80.23 L1486.52,80.10 L1489.31,79.98 L1492.10,79.85 L1494.89,79.73 L1497.68,79.62 L1500.48,79.51 L1503.27,79.40 L1506.06,79.29 L1508.85,79.19 L1511.64,79.09 L1514.43,79.00 L1517.23,78.91 L1520.02,78.82 L1522.81,78.73 L1525.60,78.65" fill="none" stroke="#161616" stroke-width="2.8" stroke-linecap="butt" stroke-linejoin="round" stroke-dasharray="13.00,13.00" />
<path d="M967.30,452.75 L970.09,450.36 L972.88,447.89 L975.67,445.35 L978.47,442.73 L981.26,440.04 L984.05,437.28 L986.84,434.44 L989.63,431.54 L992.42,428.56 L995.21,425.53 L998.01,422.43 L1000.80,419.27 L1003.59,416.05 L1006.38,412.77 L1009.17,409.44 L1011.96,406.06 L1014.76,402.63 L1017.55,399.16 L1020.34,395.64 L1023.13,392.08 L1025.92,388.49 L1028.71,384.86 L1031.50,381.20 L1034.30,377.51 L1037.09,373.79 L1039.88,370.05 L1042.67,366.29 L1045.46,362.51 L1048.25,358.72 L1051.05,354.91 L1053.84,351.09 L1056.63,347.27 L1059.42,343.44 L1062.21,339.60 L1065.00,335.77 L1067.79,331.94 L1070.59,328.12 L1073.38,324.30 L1076.17,320.49 L1078.96,316.69 L1081.75,312.91 L1084.54,309.14 L1087.33,305.39 L1090.13,301.65 L1092.92,297.94 L1095.71,294.25 L1098.50,290.58 L1101.29,286.94 L1104.08,283.33 L1106.88,279.74 L1109.67,276.18 L1112.46,272.66 L1115.25,269.16 L1118.04,265.70 L1120.83,262.27 L1123.62,258.88 L1126.42,255.52 L1129.21,252.20 L1132.00,248.92 L1134.79,245.67 L1137.58,242.46 L1140.37,239.29 L1143.16,236.17 L1145.96,233.08 L1148.75,230.03 L1151.54,227.02 L1154.33,224.06 L1157.12,221.13 L1159.91,218.25 L1162.70,215.41 L1165.50,212.61 L1168.29,209.85 L1171.08,207.13 L1173.87,204.46 L1176.66,201.83 L1179.45,199.24 L1182.25,196.69 L1185.04,194.18 L1187.83,191.72 L1190.62,189.29 L1193.41,186.91 L1196.20,184.57 L1198.99,182.27 L1201.79,180.01 L1204.58,177.79 L1207.37,175.60 L1210.16,173.46 L1212.95,171.36 L1215.74,169.29 L1218.53,167.27 L1221.33,165.28 L1224.12,163.33 L1226.91,161.41 L1229.70,159.54 L1232.49,157.69 L1235.28,155.89 L1238.08,154.12 L1240.87,152.38 L1243.66,150.68 L1246.45,149.01 L1249.24,147.38 L1252.03,145.78 L1254.82,144.21 L1257.62,142.67 L1260.41,141.16 L1263.20,139.69 L1265.99,138.24 L1268.78,136.83 L1271.57,135.44 L1274.37,134.09 L1277.16,132.76 L1279.95,131.46 L1282.74,130.19 L1285.53,128.94 L1288.32,127.73 L1291.11,126.53 L1293.91,125.37 L1296.70,124.23 L1299.49,123.11 L1302.28,122.02 L1305.07,120.95 L1307.86,119.91 L1310.65,118.88 L1313.45,117.88 L1316.24,116.91 L1319.03,115.95 L1321.82,115.02 L1324.61,114.10 L1327.40,113.21 L1330.19,112.34 L1332.99,111.48 L1335.78,110.65 L1338.57,109.84 L1341.36,109.04 L1344.15,108.26 L1346.94,107.50 L1349.74,106.76 L1352.53,106.03 L1355.32,105.32 L1358.11,104.62 L1360.90,103.95 L1363.69,103.28 L1366.48,102.64 L1369.28,102.01 L1372.07,101.39 L1374.86,100.78 L1377.65,100.20 L1380.44,99.62 L1383.23,99.06 L1386.02,98.51 L1388.82,97.97 L1391.61,97.45 L1394.40,96.94 L1397.19,96.44 L1399.98,95.95 L1402.77,95.47 L1405.57,95.01 L1408.36,94.56 L1411.15,94.11 L1413.94,93.68 L1416.73,93.26 L1419.52,92.84 L1422.31,92.44 L1425.11,92.05 L1427.90,91.66 L1430.69,91.29 L1433.48,90.92 L1436.27,90.57 L1439.06,90.22 L1441.86,89.88 L1444.65,89.54 L1447.44,89.22 L1450.23,88.90 L1453.02,88.60 L1455.81,88.29 L1458.60,88.00 L1461.40,87.71 L1464.19,87.43 L1466.98,87.16 L1469.77,86.89 L1472.56,86.63 L1475.35,86.38 L1478.14,86.13 L1480.94,85.89 L1483.73,85.65 L1486.52,85.42 L1489.31,85.19 L1492.10,84.97 L1494.89,84.76 L1497.68,84.55 L1500.48,84.35 L1503.27,84.15 L1506.06,83.95 L1508.85,83.76 L1511.64,83.58 L1514.43,83.40 L1517.23,83.22 L1520.02,83.05 L1522.81,82.88 L1525.60,82.72" fill="none" stroke="#161616" stroke-width="2.8" stroke-linecap="butt" stroke-linejoin="round" stroke-dasharray="13.00,13.00" />
<path d="M967.30,492.90 L970.09,492.69 L972.88,492.07 L975.67,491.08 L978.47,489.74 L981.26,488.06 L984.05,486.08 L986.84,483.80 L989.63,481.25 L992.42,478.45 L995.21,475.41 L998.01,472.15 L1000.80,468.69 L1003.59,465.04 L1006.38,461.21 L1009.17,457.23 L1011.96,453.10 L1014.76,448.83 L1017.55,444.44 L1020.34,439.95 L1023.13,435.35 L1025.92,430.67 L1028.71,425.91 L1031.50,421.08 L1034.30,416.20 L1037.09,411.26 L1039.88,406.29 L1042.67,401.28 L1045.46,396.24 L1048.25,391.18 L1051.05,386.11 L1053.84,381.04 L1056.63,375.96 L1059.42,370.89 L1062.21,365.83 L1065.00,360.78 L1067.79,355.75 L1070.59,350.74 L1073.38,345.77 L1076.17,340.82 L1078.96,335.91 L1081.75,331.03 L1084.54,326.20 L1087.33,321.40 L1090.13,316.66 L1092.92,311.96 L1095.71,307.31 L1098.50,302.71 L1101.29,298.17 L1104.08,293.68 L1106.88,289.25 L1109.67,284.87 L1112.46,280.56 L1115.25,276.30 L1118.04,272.10 L1120.83,267.97 L1123.62,263.89 L1126.42,259.88 L1129.21,255.93 L1132.00,252.04 L1134.79,248.22 L1137.58,244.46 L1140.37,240.76 L1143.16,237.12 L1145.96,233.55 L1148.75,230.04 L1151.54,226.60 L1154.33,223.21 L1157.12,219.89 L1159.91,216.63 L1162.70,213.43 L1165.50,210.29 L1168.29,207.21 L1171.08,204.19 L1173.87,201.23 L1176.66,198.33 L1179.45,195.48 L1182.25,192.70 L1185.04,189.96 L1187.83,187.29 L1190.62,184.67 L1193.41,182.10 L1196.20,179.59 L1198.99,177.13 L1201.79,174.72 L1204.58,172.37 L1207.37,170.06 L1210.16,167.81 L1212.95,165.60 L1215.74,163.44 L1218.53,161.33 L1221.33,159.26 L1224.12,157.24 L1226.91,155.27 L1229.70,153.34 L1232.49,151.45 L1235.28,149.61 L1238.08,147.81 L1240.87,146.04 L1243.66,144.32 L1246.45,142.64 L1249.24,141.00 L1252.03,139.39 L1254.82,137.83 L1257.62,136.30 L1260.41,134.80 L1263.20,133.34 L1265.99,131.91 L1268.78,130.52 L1271.57,129.16 L1274.37,127.84 L1277.16,126.54 L1279.95,125.28 L1282.74,124.04 L1285.53,122.84 L1288.32,121.66 L1291.11,120.51 L1293.91,119.40 L1296.70,118.30 L1299.49,117.24 L1302.28,116.20 L1305.07,115.18 L1307.86,114.19 L1310.65,113.23 L1313.45,112.29 L1316.24,111.37 L1319.03,110.47 L1321.82,109.60 L1324.61,108.75 L1327.40,107.92 L1330.19,107.11 L1332.99,106.31 L1335.78,105.54 L1338.57,104.79 L1341.36,104.06 L1344.15,103.35 L1346.94,102.65 L1349.74,101.97 L1352.53,101.31 L1355.32,100.66 L1358.11,100.03 L1360.90,99.42 L1363.69,98.82 L1366.48,98.24 L1369.28,97.67 L1372.07,97.12 L1374.86,96.58 L1377.65,96.05 L1380.44,95.54 L1383.23,95.04 L1386.02,94.56 L1388.82,94.08 L1391.61,93.62 L1394.40,93.17 L1397.19,92.73 L1399.98,92.30 L1402.77,91.89 L1405.57,91.48 L1408.36,91.09 L1411.15,90.70 L1413.94,90.32 L1416.73,89.96 L1419.52,89.60 L1422.31,89.25 L1425.11,88.92 L1427.90,88.59 L1430.69,88.27 L1433.48,87.95 L1436.27,87.65 L1439.06,87.35 L1441.86,87.06 L1444.65,86.78 L1447.44,86.50 L1450.23,86.24 L1453.02,85.98 L1455.81,85.72 L1458.60,85.48 L1461.40,85.23 L1464.19,85.00 L1466.98,84.77 L1469.77,84.55 L1472.56,84.33 L1475.35,84.12 L1478.14,83.92 L1480.94,83.71 L1483.73,83.52 L1486.52,83.33 L1489.31,83.14 L1492.10,82.96 L1494.89,82.79 L1497.68,82.62 L1500.48,82.45 L1503.27,82.29 L1506.06,82.13 L1508.85,81.98 L1511.64,81.83 L1514.43,81.68 L1517.23,81.54 L1520.02,81.40 L1522.81,81.26 L1525.60,81.13" fill="none" stroke="#161616" stroke-width="2.8" stroke-linecap="butt" stroke-linejoin="round" stroke-dasharray="3.25,9.75,13.00,9.75" />
<path d="M967.30,492.90 L970.09,492.69 L972.88,492.08 L975.67,491.08 L978.47,489.72 L981.26,488.02 L984.05,486.01 L986.84,483.70 L989.63,481.12 L992.42,478.28 L995.21,475.21 L998.01,471.93 L1000.80,468.44 L1003.59,464.77 L1006.38,460.93 L1009.17,456.94 L1011.96,452.81 L1014.76,448.55 L1017.55,444.18 L1020.34,439.70 L1023.13,435.13 L1025.92,430.49 L1028.71,425.77 L1031.50,420.99 L1034.30,416.16 L1037.09,411.28 L1039.88,406.37 L1042.67,401.43 L1045.46,396.46 L1048.25,391.48 L1051.05,386.50 L1053.84,381.50 L1056.63,376.52 L1059.42,371.53 L1062.21,366.56 L1065.00,361.61 L1067.79,356.67 L1070.59,351.76 L1073.38,346.88 L1076.17,342.03 L1078.96,337.21 L1081.75,332.43 L1084.54,327.69 L1087.33,322.99 L1090.13,318.34 L1092.92,313.73 L1095.71,309.17 L1098.50,304.66 L1101.29,300.20 L1104.08,295.79 L1106.88,291.43 L1109.67,287.14 L1112.46,282.89 L1115.25,278.71 L1118.04,274.58 L1120.83,270.51 L1123.62,266.50 L1126.42,262.54 L1129.21,258.65 L1132.00,254.81 L1134.79,251.04 L1137.58,247.32 L1140.37,243.67 L1143.16,240.07 L1145.96,236.54 L1148.75,233.06 L1151.54,229.65 L1154.33,226.29 L1157.12,222.99 L1159.91,219.75 L1162.70,216.57 L1165.50,213.45 L1168.29,210.38 L1171.08,207.37 L1173.87,204.42 L1176.66,201.52 L1179.45,198.68 L1182.25,195.89 L1185.04,193.16 L1187.83,190.48 L1190.62,187.85 L1193.41,185.27 L1196.20,182.75 L1198.99,180.28 L1201.79,177.86 L1204.58,175.48 L1207.37,173.16 L1210.16,170.88 L1212.95,168.65 L1215.74,166.47 L1218.53,164.33 L1221.33,162.24 L1224.12,160.19 L1226.91,158.19 L1229.70,156.23 L1232.49,154.31 L1235.28,152.44 L1238.08,150.60 L1240.87,148.81 L1243.66,147.05 L1246.45,145.34 L1249.24,143.66 L1252.03,142.02 L1254.82,140.41 L1257.62,138.84 L1260.41,137.31 L1263.20,135.81 L1265.99,134.35 L1268.78,132.91 L1271.57,131.52 L1274.37,130.15 L1277.16,128.81 L1279.95,127.51 L1282.74,126.24 L1285.53,124.99 L1288.32,123.78 L1291.11,122.59 L1293.91,121.43 L1296.70,120.30 L1299.49,119.19 L1302.28,118.11 L1305.07,117.06 L1307.86,116.03 L1310.65,115.03 L1313.45,114.05 L1316.24,113.09 L1319.03,112.16 L1321.82,111.25 L1324.61,110.36 L1327.40,109.49 L1330.19,108.64 L1332.99,107.81 L1335.78,107.01 L1338.57,106.22 L1341.36,105.45 L1344.15,104.71 L1346.94,103.98 L1349.74,103.26 L1352.53,102.57 L1355.32,101.89 L1358.11,101.23 L1360.90,100.58 L1363.69,99.95 L1366.48,99.34 L1369.28,98.74 L1372.07,98.16 L1374.86,97.59 L1377.65,97.04 L1380.44,96.50 L1383.23,95.97 L1386.02,95.46 L1388.82,94.95 L1391.61,94.47 L1394.40,93.99 L1397.19,93.53 L1399.98,93.07 L1402.77,92.63 L1405.57,92.20 L1408.36,91.78 L1411.15,91.38 L1413.94,90.98 L1416.73,90.59 L1419.52,90.21 L1422.31,89.85 L1425.11,89.49 L1427.90,89.14 L1430.69,88.80 L1433.48,88.46 L1436.27,88.14 L1439.06,87.83 L1441.86,87.52 L1444.65,87.22 L1447.44,86.93 L1450.23,86.64 L1453.02,86.37 L1455.81,86.10 L1458.60,85.84 L1461.40,85.58 L1464.19,85.33 L1466.98,85.09 L1469.77,84.85 L1472.56,84.62 L1475.35,84.40 L1478.14,84.18 L1480.94,83.97 L1483.73,83.76 L1486.52,83.56 L1489.31,83.36 L1492.10,83.17 L1494.89,82.99 L1497.68,82.80 L1500.48,82.63 L1503.27,82.46 L1506.06,82.29 L1508.85,82.13 L1511.64,81.97 L1514.43,81.81 L1517.23,81.66 L1520.02,81.51 L1522.81,81.37 L1525.60,81.23" fill="none" stroke="#161616" stroke-width="2.8" stroke-linecap="butt" stroke-linejoin="round" stroke-dasharray="22.75,9.75" />
<path d="M967.30,492.90 L970.09,492.71 L972.88,492.12 L975.67,491.15 L978.47,489.81 L981.26,488.13 L984.05,486.13 L986.84,483.83 L989.63,481.26 L992.42,478.43 L995.21,475.36 L998.01,472.07 L1000.80,468.58 L1003.59,464.90 L1006.38,461.06 L1009.17,457.06 L1011.96,452.91 L1014.76,448.64 L1017.55,444.26 L1020.34,439.78 L1023.13,435.20 L1025.92,430.54 L1028.71,425.81 L1031.50,421.02 L1034.30,416.17 L1037.09,411.28 L1039.88,406.36 L1042.67,401.41 L1045.46,396.43 L1048.25,391.44 L1051.05,386.44 L1053.84,381.43 L1056.63,376.43 L1059.42,371.43 L1062.21,366.45 L1065.00,361.48 L1067.79,356.53 L1070.59,351.61 L1073.38,346.71 L1076.17,341.84 L1078.96,337.01 L1081.75,332.21 L1084.54,327.45 L1087.33,322.73 L1090.13,318.06 L1092.92,313.43 L1095.71,308.85 L1098.50,304.32 L1101.29,299.84 L1104.08,295.41 L1106.88,291.03 L1109.67,286.71 L1112.46,282.45 L1115.25,278.24 L1118.04,274.08 L1120.83,269.99 L1123.62,265.95 L1126.42,261.97 L1129.21,258.05 L1132.00,254.19 L1134.79,250.39 L1137.58,246.65 L1140.37,242.97 L1143.16,239.35 L1145.96,235.78 L1148.75,232.28 L1151.54,228.84 L1154.33,225.45 L1157.12,222.13 L1159.91,218.86 L1162.70,215.65 L1165.50,212.50 L1168.29,209.40 L1171.08,206.37 L1173.87,203.39 L1176.66,200.46 L1179.45,197.59 L1182.25,194.78 L1185.04,192.02 L1187.83,189.31 L1190.62,186.66 L1193.41,184.06 L1196.20,181.51 L1198.99,179.01 L1201.79,176.57 L1204.58,174.17 L1207.37,171.82 L1210.16,169.52 L1212.95,167.27 L1215.74,165.07 L1218.53,162.91 L1221.33,160.80 L1224.12,158.73 L1226.91,156.71 L1229.70,154.73 L1232.49,152.79 L1235.28,150.90 L1238.08,149.05 L1240.87,147.24 L1243.66,145.46 L1246.45,143.73 L1249.24,142.04 L1252.03,140.38 L1254.82,138.77 L1257.62,137.18 L1260.41,135.64 L1263.20,134.13 L1265.99,132.65 L1268.78,131.21 L1271.57,129.80 L1274.37,128.43 L1277.16,127.08 L1279.95,125.77 L1282.74,124.49 L1285.53,123.24 L1288.32,122.02 L1291.11,120.83 L1293.91,119.66 L1296.70,118.53 L1299.49,117.42 L1302.28,116.34 L1305.07,115.28 L1307.86,114.25 L1310.65,113.25 L1313.45,112.27 L1316.24,111.31 L1319.03,110.38 L1321.82,109.47 L1324.61,108.58 L1327.40,107.71 L1330.19,106.87 L1332.99,106.04 L1335.78,105.24 L1338.57,104.46 L1341.36,103.70 L1344.15,102.95 L1346.94,102.23 L1349.74,101.52 L1352.53,100.83 L1355.32,100.16 L1358.11,99.51 L1360.90,98.87 L1363.69,98.25 L1366.48,97.64 L1369.28,97.05 L1372.07,96.48 L1374.86,95.92 L1377.65,95.38 L1380.44,94.85 L1383.23,94.33 L1386.02,93.83 L1388.82,93.34 L1391.61,92.86 L1394.40,92.39 L1397.19,91.94 L1399.98,91.50 L1402.77,91.07 L1405.57,90.65 L1408.36,90.25 L1411.15,89.85 L1413.94,89.47 L1416.73,89.09 L1419.52,88.73 L1422.31,88.37 L1425.11,88.03 L1427.90,87.69 L1430.69,87.36 L1433.48,87.04 L1436.27,86.73 L1439.06,86.43 L1441.86,86.14 L1444.65,85.85 L1447.44,85.58 L1450.23,85.31 L1453.02,85.05 L1455.81,84.79 L1458.60,84.54 L1461.40,84.30 L1464.19,84.07 L1466.98,83.84 L1469.77,83.62 L1472.56,83.40 L1475.35,83.19 L1478.14,82.99 L1480.94,82.79 L1483.73,82.60 L1486.52,82.41 L1489.31,82.23 L1492.10,82.05 L1494.89,81.88 L1497.68,81.71 L1500.48,81.55 L1503.27,81.39 L1506.06,81.24 L1508.85,81.09 L1511.64,80.94 L1514.43,80.80 L1517.23,80.67 L1520.02,80.53 L1522.81,80.40 L1525.60,80.28" fill="none" stroke="#161616" stroke-width="2.8" stroke-linecap="butt" stroke-linejoin="round" stroke-dasharray="6.50,6.50,19.50,6.50" />
<path d="M1329.00,284.70 L1386.00,284.70" fill="none" stroke="#161616" stroke-width="2.8" stroke-linecap="butt" stroke-linejoin="round"  />
<path d="M1329.00,307.40 L1386.00,307.40" fill="none" stroke="#161616" stroke-width="2.8" stroke-linecap="butt" stroke-linejoin="round" stroke-dasharray="13.68,13.68" />
<path d="M1329.00,331.10 L1386.00,331.10" fill="none" stroke="#161616" stroke-width="2.8" stroke-linecap="butt" stroke-linejoin="round" stroke-dasharray="3.42,10.26" />
<path d="M1329.00,353.10 L1386.00,353.10" fill="none" stroke="#161616" stroke-width="2.8" stroke-linecap="butt" stroke-linejoin="round" stroke-dasharray="3.42,10.26,13.68,10.26" />
<path d="M1329.00,375.30 L1386.00,375.30" fill="none" stroke="#161616" stroke-width="2.8" stroke-linecap="butt" stroke-linejoin="round" stroke-dasharray="23.94,10.26" />
<path d="M1329.00,397.50 L1386.00,397.50" fill="none" stroke="#161616" stroke-width="2.8" stroke-linecap="butt" stroke-linejoin="round" stroke-dasharray="6.84,6.84,20.52,6.84" />
</svg>
</body></html>
